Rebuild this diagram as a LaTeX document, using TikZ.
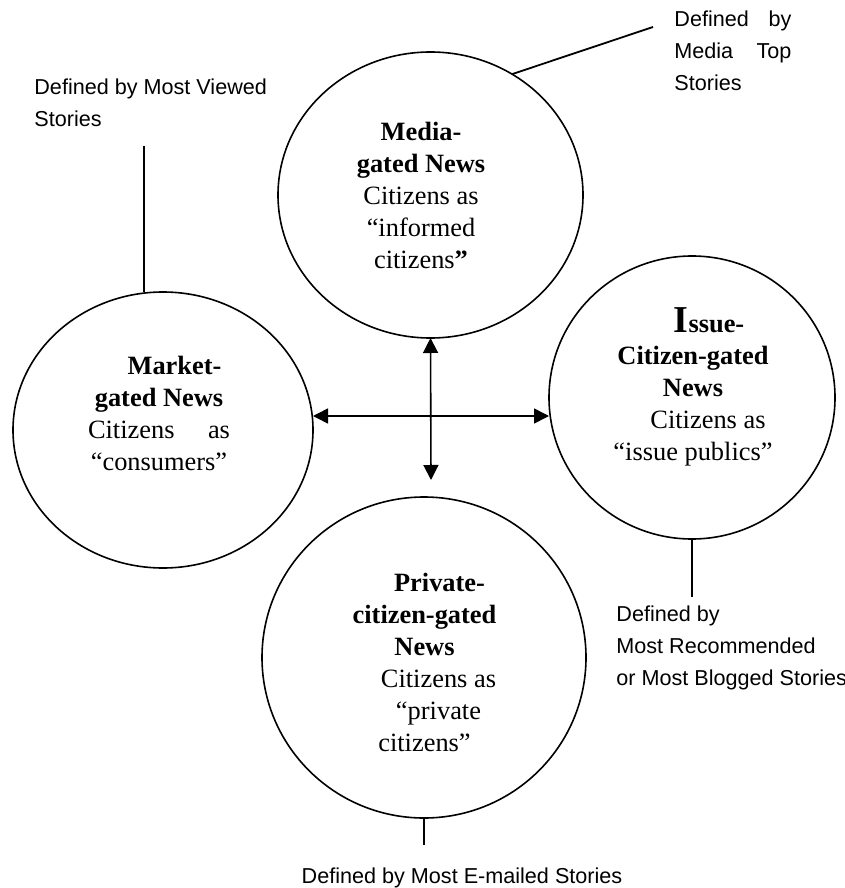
\documentclass[tikz,border=0pt]{standalone}
\usepackage{fontspec}
\setmainfont{Liberation Serif}
\setsansfont{Liberation Sans}
\usetikzlibrary{shapes.geometric, arrows.meta}

\begin{document}
\begin{tikzpicture}[x=0.5pt, y=-0.5pt,
    gate/.style={ellipse, draw, line width=0.8pt, inner sep=0pt, outer sep=0pt},
    gatetext/.style={anchor=north, align=center, inner sep=0pt, font=\fontsize{13.2}{16}\selectfont},
    defined/.style={anchor=north west, align=left, inner sep=0pt, font=\sffamily\fontsize{10.8}{16}\selectfont},
    link/.style={line width=0.9pt},
    both/.style={line width=0.8pt, {Triangle[length=7.5pt, width=7.5pt]}-{Triangle[length=7.5pt, width=7.5pt]}}]
    \useasboundingbox (0,0) rectangle (845,888);

    % Circles
    \node [gate, minimum width=152.5pt, minimum height=143pt] (media) at (430.5,195) {};
    \node [gate, minimum width=150pt, minimum height=138pt] (market) at (163,430) {};
    \node [gate, minimum width=143pt, minimum height=141.5pt] (issue) at (692,397.5) {};
    \node [gate, minimum width=162pt, minimum height=160.5pt] (private) at (424,657.5) {};

    % Texts in the circles
    \node [gatetext] (mediatext) at (421,122) {\textbf{Media-}\\\textbf{gated News}\\Citizens as\\“informed\\citizens\textbf{”}};
    \node [gatetext] (markettext) at (159,356) {\hspace*{15.5pt}\textbf{Market-}\\\textbf{gated News}\\\makebox[71pt][s]{Citizens as}\\“consumers”};
    \node [gatetext] (issuetext) at (693,307) {\hspace*{16pt}\textbf{{\fontsize{19}{16}\selectfont I}ssue-}\\\textbf{Citizen-gated}\\\textbf{News}\\\hspace*{15pt}Citizens as\\“issue publics”};
    \node [gatetext] (privatetext) at (424.5,573) {\hspace*{15pt}\textbf{Private-}\\\textbf{citizen-gated}\\\textbf{News}\\\hspace*{14pt}Citizens as\\\hspace*{14pt}“private\\citizens”};

    % Defined by ...
    \node [defined] (viewlabel) at (34,78) {Defined by Most Viewed\\Stories};
    \node [defined] (toplabel) at (674,10) {\makebox[58.5pt][s]{Defined by}\\\makebox[58.5pt][s]{Media Top}\\Stories};
    \node [defined] (recolabel) at (616,605) {Defined by\\Most Recommended\\or Most Blogged Stories};
    \node [defined, anchor=north] (maillabel) at (462,867) {Defined by Most E-mailed Stories};

    % Lines
    \coordinate (viewend) at (144,146);
    \coordinate (topend) at (653,27);
    \coordinate (recoend) at (692,597);
    \coordinate (mailend) at (424,845);
    \draw [link] (viewend) -- (viewend |- market.north);
    \draw [link] (media.56) -- (topend);
    \draw [link] (issue.south) -- (recoend);
    \draw [link] (private.south) -- (mailend);

    % Arrows
    \coordinate (hub) at (431,416);
    \coordinate (downend) at (431,480);
    \draw [both] (media.south) -- (downend);
    \draw [both] (hub -| market.east) -- (hub -| issue.west);
\end{tikzpicture}
\end{document}
